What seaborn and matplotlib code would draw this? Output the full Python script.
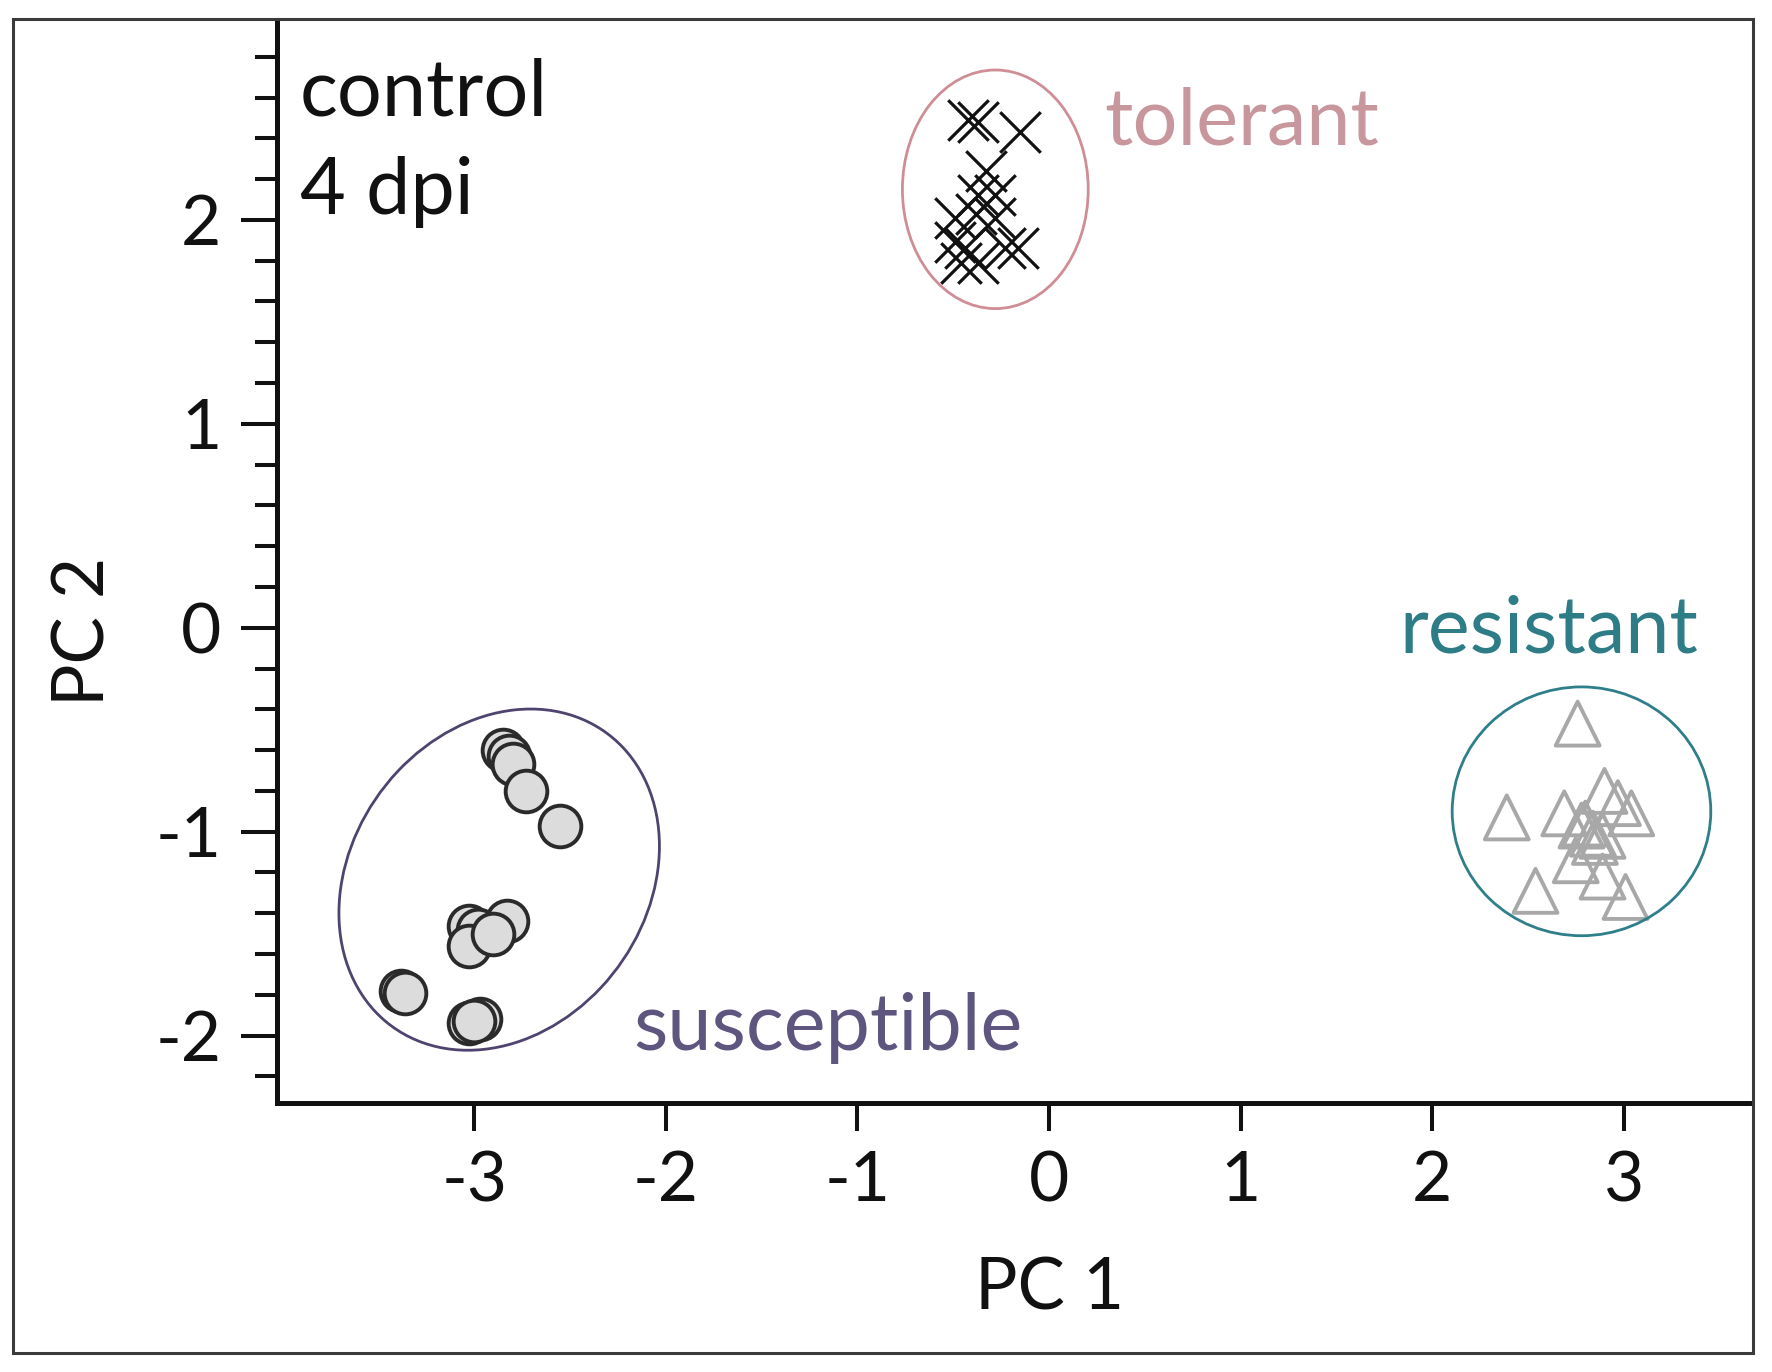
import matplotlib
matplotlib.use("Agg")
import pandas as pd
import seaborn as sns
import matplotlib.pyplot as plt
from matplotlib.patches import Ellipse, Rectangle
from matplotlib.ticker import FixedLocator, MultipleLocator

# PCA scores
tolerant_x = [-0.42, -0.37, -0.15, -0.33, -0.37, -0.28, -0.49, -0.38, -0.28, -0.49, -0.44, -0.16, -0.37, -0.46, -0.23]
tolerant_y = [2.49, 2.48, 2.43, 2.24, 2.12, 2.12, 2.01, 2.03, 2.01, 1.89, 1.86, 1.86, 1.79, 1.79, 1.86]

susceptible_x = [-2.85, -2.82, -2.80, -2.73, -2.55, -3.03, -2.98, -2.83, -3.03, -2.90, -3.38, -3.36, -3.03, -2.97, -3.00]
susceptible_y = [-0.60, -0.63, -0.67, -0.80, -0.97, -1.46, -1.48, -1.44, -1.56, -1.50, -1.78, -1.79, -1.94, -1.92, -1.93]

resistant_x = [2.76, 2.39, 2.69, 2.90, 2.97, 3.04, 2.78, 2.84, 2.89, 2.75, 2.89, 2.54, 3.01, 2.80, 2.85]
resistant_y = [-0.47, -0.93, -0.91, -0.80, -0.86, -0.91, -0.97, -1.01, -1.02, -1.14, -1.22, -1.29, -1.32, -0.96, -1.05]

groups = ["tolerant", "susceptible", "resistant"]
# group ellipses: centre x, centre y, width, height, angle
ellipse_cx = [-0.28, -2.87, 2.78]
ellipse_cy = [2.15, -1.235, -0.90]
ellipse_w = [0.97, 1.83, 1.35]
ellipse_h = [1.17, 1.50, 1.22]
ellipse_angle = [0, 45, 0]

x_ticks = [-3, -2, -1, 0, 1, 2, 3]
y_ticks = [-2, -1, 0, 1, 2]

df = pd.concat([
    pd.DataFrame({"PC 1": tolerant_x, "PC 2": tolerant_y, "group": "tolerant"}),
    pd.DataFrame({"PC 1": susceptible_x, "PC 2": susceptible_y, "group": "susceptible"}),
    pd.DataFrame({"PC 1": resistant_x, "PC 2": resistant_y, "group": "resistant"}),
])

sns.set_theme(style="white")
plt.rcParams["font.family"] = ["Lato", "DejaVu Sans"]
plt.rcParams["axes.unicode_minus"] = False

ellipse_colors = {"tolerant": "#cf8d96", "susceptible": "#4f446f", "resistant": "#2f7f8a"}
text_colors = {"tolerant": "#c8979d", "susceptible": "#5f5680", "resistant": "#2e7c86"}
label_pos = {"tolerant": (0.29, 2.37), "susceptible": (-2.17, -2.07), "resistant": (1.83, -0.12)}

fig = plt.figure(figsize=(17.72, 13.72), dpi=100)
ax = fig.add_axes([0.1563, 0.1961, 0.8324, 0.7893])

# markers
sns.scatterplot(data=df[df.group == "susceptible"], x="PC 1", y="PC 2", ax=ax,
                marker="o", s=900, facecolor="#dcdcdc", edgecolor="#2a2a2a",
                linewidth=2.8, zorder=3)
sns.scatterplot(data=df[df.group == "resistant"], x="PC 1", y="PC 2", ax=ax,
                marker="^", s=1000, facecolor="none", edgecolor="#a8a8a8",
                linewidth=2.8, zorder=3)
sns.scatterplot(data=df[df.group == "tolerant"], x="PC 1", y="PC 2", ax=ax,
                marker="x", s=850, color="#111111", linewidth=2.3, zorder=3)

# ellipses and group labels
for i, g in enumerate(groups):
    ax.add_patch(Ellipse((ellipse_cx[i], ellipse_cy[i]), ellipse_w[i], ellipse_h[i],
                         angle=ellipse_angle[i], fill=False,
                         edgecolor=ellipse_colors[g], linewidth=2.0, zorder=4))
    ax.text(label_pos[g][0], label_pos[g][1], g, color=text_colors[g],
            fontsize=57, ha="left", va="baseline")

ax.text(-3.91, 2.51, "control", fontsize=57, ha="left", va="baseline", color="#111111")
ax.text(-3.91, 2.03, "4 dpi", fontsize=57, ha="left", va="baseline", color="#111111")

ax.set_xlim(-4.03, 3.67)
ax.set_ylim(-2.33, 2.98)

ax.xaxis.set_major_locator(FixedLocator(x_ticks))
ax.yaxis.set_major_locator(FixedLocator(y_ticks))
ax.yaxis.set_minor_locator(MultipleLocator(0.2))
ax.set_xticklabels([str(t) for t in x_ticks])
ax.set_yticklabels([str(t) for t in y_ticks])

ax.tick_params(axis="x", which="major", direction="out", length=20, width=2.9,
               pad=14, labelsize=50, colors="#111111", bottom=True)
ax.tick_params(axis="y", which="major", direction="out", length=26, width=2.9,
               pad=14, labelsize=50, colors="#111111", left=True)
ax.tick_params(axis="y", which="minor", direction="out", length=16, width=2.9,
               left=True, colors="#111111")

for side in ["top", "right"]:
    ax.spines[side].set_visible(False)
for side in ["left", "bottom"]:
    ax.spines[side].set_linewidth(3.6)
    ax.spines[side].set_color("#111111")

ax.set_xlabel("PC 1", fontsize=51, color="#111111")
ax.set_ylabel("PC 2", fontsize=51, color="#111111")
ax.xaxis.set_label_coords(0.524, -0.142)
ax.yaxis.set_label_coords(-0.109, 0.435)

# outer frame around the figure
fig.add_artist(Rectangle((0.0073, 0.0138), 0.9819, 0.9723, transform=fig.transFigure,
                         fill=False, edgecolor="#3a3a3a", linewidth=2.2))

fig.savefig("out.png", dpi=100, facecolor="white")
